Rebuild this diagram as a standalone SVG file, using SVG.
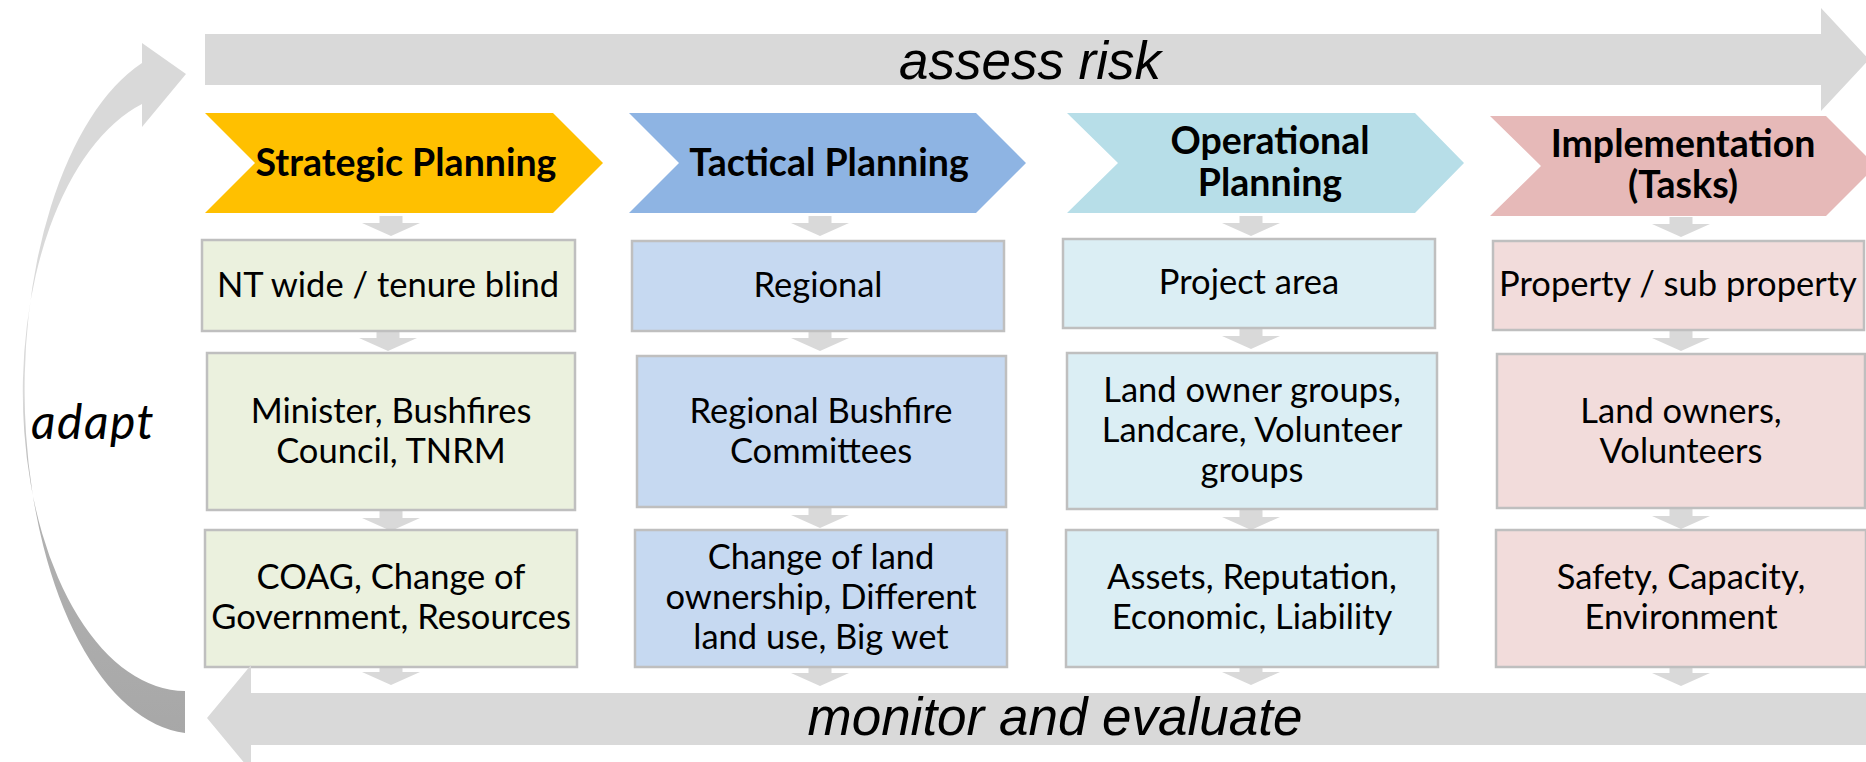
<svg xmlns="http://www.w3.org/2000/svg" width="1866" height="762" viewBox="0 0 1866 762">
<defs>
<linearGradient id="curveGrad" gradientUnits="userSpaceOnUse" x1="0" y1="0" x2="0" y2="762">
<stop offset="0" stop-color="#d9d9d9"/>
<stop offset="0.52" stop-color="#d9d9d9"/>
<stop offset="0.64" stop-color="#b3b3b3"/>
<stop offset="1" stop-color="#a6a6a6"/>
</linearGradient>
<path id="dn" d="M-11.5,0 h23 v7 h17.5 l-29,13 l-29,-13 h17.5 z"/>
</defs>
<style>
.big{fill:#d9d9d9}
.dn{fill:#d9d9d9}
.box{stroke:#bfbfbf;stroke-width:2.5}
.s{fill:#ebf1de}.t{fill:#c6d9f1}.o{fill:#dbeef4}.i{fill:#f2dcdb}
.txt{font-family:Lato,"Open Sans","Liberation Sans",sans-serif;font-size:34.5px;fill:#000;text-anchor:middle}
.hd{font-family:Lato,"Open Sans","Liberation Sans",sans-serif;font-size:37.5px;font-weight:bold;fill:#000;text-anchor:middle}
.ar{font-family:"Liberation Sans",Arial,sans-serif;font-style:italic;font-size:53px;fill:#000;text-anchor:middle}
.ad{font-family:Lato,"Open Sans","Liberation Sans",sans-serif;font-style:italic;font-size:48px;letter-spacing:1.5px;fill:#000}
</style>
<rect width="1866" height="762" fill="#ffffff"/>

<g id="connectors">
<path id="adapt-arrow" fill="url(#curveGrad)" d="M142,63 A171 344 0 0 0 185,733 L185,691 A163 299 0 0 1 142,104 L142,127 L186,74 L142,43 Z"/>
<path id="assess-arrow" class="big" d="M205,34 H1821 V8 L1869,59.5 L1821,111 V85 H205 Z"/>
<use href="#dn" x="391" y="216" class="dn"/>
<use href="#dn" x="388" y="331" class="dn"/>
<use href="#dn" x="391" y="511" class="dn"/>
<use href="#dn" x="391" y="665" class="dn"/>
<use href="#dn" x="820" y="216" class="dn"/>
<use href="#dn" x="820" y="331" class="dn"/>
<use href="#dn" x="820" y="508" class="dn"/>
<use href="#dn" x="820" y="666" class="dn"/>
<use href="#dn" x="1251" y="216" class="dn"/>
<use href="#dn" x="1251" y="329" class="dn"/>
<use href="#dn" x="1251" y="510" class="dn"/>
<use href="#dn" x="1251" y="665" class="dn"/>
<use href="#dn" x="1681" y="217" class="dn"/>
<use href="#dn" x="1681" y="331" class="dn"/>
<use href="#dn" x="1681" y="509" class="dn"/>
<use href="#dn" x="1681" y="666" class="dn"/>
</g>

<g id="strategic">
<polygon points="205,113 553,113 603,163 553,213 205,213 255,163" fill="#ffc000"/>
<text class="hd" x="406" y="176">Strategic Planning</text>
</g>
<g id="tactical">
<polygon points="629,113 976,113 1026,163 976,213 629,213 679,163" fill="#8eb4e3"/>
<text class="hd" x="829" y="176">Tactical Planning</text>
</g>
<g id="operational">
<polygon points="1067,113 1415,113 1464,163 1415,213 1067,213 1118,163" fill="#b7dee8"/>
<text class="hd" x="1270" y="154">Operational</text>
<text class="hd" x="1270" y="196">Planning</text>
</g>
<g id="implementation">
<polygon points="1490,116 1826,116 1876,166 1826,216 1490,216 1541,166" fill="#e6b9b8"/>
<text class="hd" x="1683" y="157">Implementation</text>
<text class="hd" x="1683" y="198">(Tasks)</text>
</g>

<g id="s1"><rect class="box s" x="202" y="240" width="373" height="91"/><text class="txt" x="388" y="297">NT wide / tenure blind</text></g>
<g id="s2"><rect class="box s" x="207" y="353" width="368" height="157"/><text class="txt" x="391" y="423">Minister, Bushfires</text><text class="txt" x="391" y="463">Council, TNRM</text></g>
<g id="s3"><rect class="box s" x="205" y="530" width="372" height="137"/><text class="txt" x="391" y="589">COAG, Change of</text><text class="txt" x="391" y="629">Government, Resources</text></g>

<g id="t1"><rect class="box t" x="632" y="241" width="372" height="90"/><text class="txt" x="818" y="297">Regional</text></g>
<g id="t2"><rect class="box t" x="637" y="356" width="369" height="151"/><text class="txt" x="821" y="423">Regional Bushfire</text><text class="txt" x="821" y="463">Committees</text></g>
<g id="t3"><rect class="box t" x="635" y="530" width="372" height="137"/><text class="txt" x="821" y="569">Change of land</text><text class="txt" x="821" y="609">ownership, Different</text><text class="txt" x="821" y="649">land use, Big wet</text></g>

<g id="o1"><rect class="box o" x="1063" y="239" width="372" height="89"/><text class="txt" x="1249" y="294">Project area</text></g>
<g id="o2"><rect class="box o" x="1067" y="353" width="370" height="156"/><text class="txt" x="1252" y="402">Land owner groups,</text><text class="txt" x="1252" y="442">Landcare, Volunteer</text><text class="txt" x="1252" y="482">groups</text></g>
<g id="o3"><rect class="box o" x="1066" y="530" width="372" height="137"/><text class="txt" x="1252" y="589">Assets, Reputation,</text><text class="txt" x="1252" y="629">Economic, Liability</text></g>

<g id="i1"><rect class="box i" x="1493" y="241" width="371" height="89"/><text class="txt" x="1678" y="296">Property / sub property</text></g>
<g id="i2"><rect class="box i" x="1497" y="354" width="368" height="154"/><text class="txt" x="1681" y="423">Land owners,</text><text class="txt" x="1681" y="463">Volunteers</text></g>
<g id="i3"><rect class="box i" x="1496" y="530" width="370" height="137"/><text class="txt" x="1681" y="589">Safety, Capacity,</text><text class="txt" x="1681" y="629">Environment</text></g>

<g id="monitor">
<path class="big" d="M1866,693 H251 V665 L207,718 L251,771 V745 H1866 Z"/>
<text class="ar" x="1055" y="735">monitor and evaluate</text>
</g>
<g id="assess-label"><text class="ar" x="1030" y="79">assess risk</text></g>
<g id="adapt-label"><text class="ad" x="31" y="439">adapt</text></g>
</svg>
